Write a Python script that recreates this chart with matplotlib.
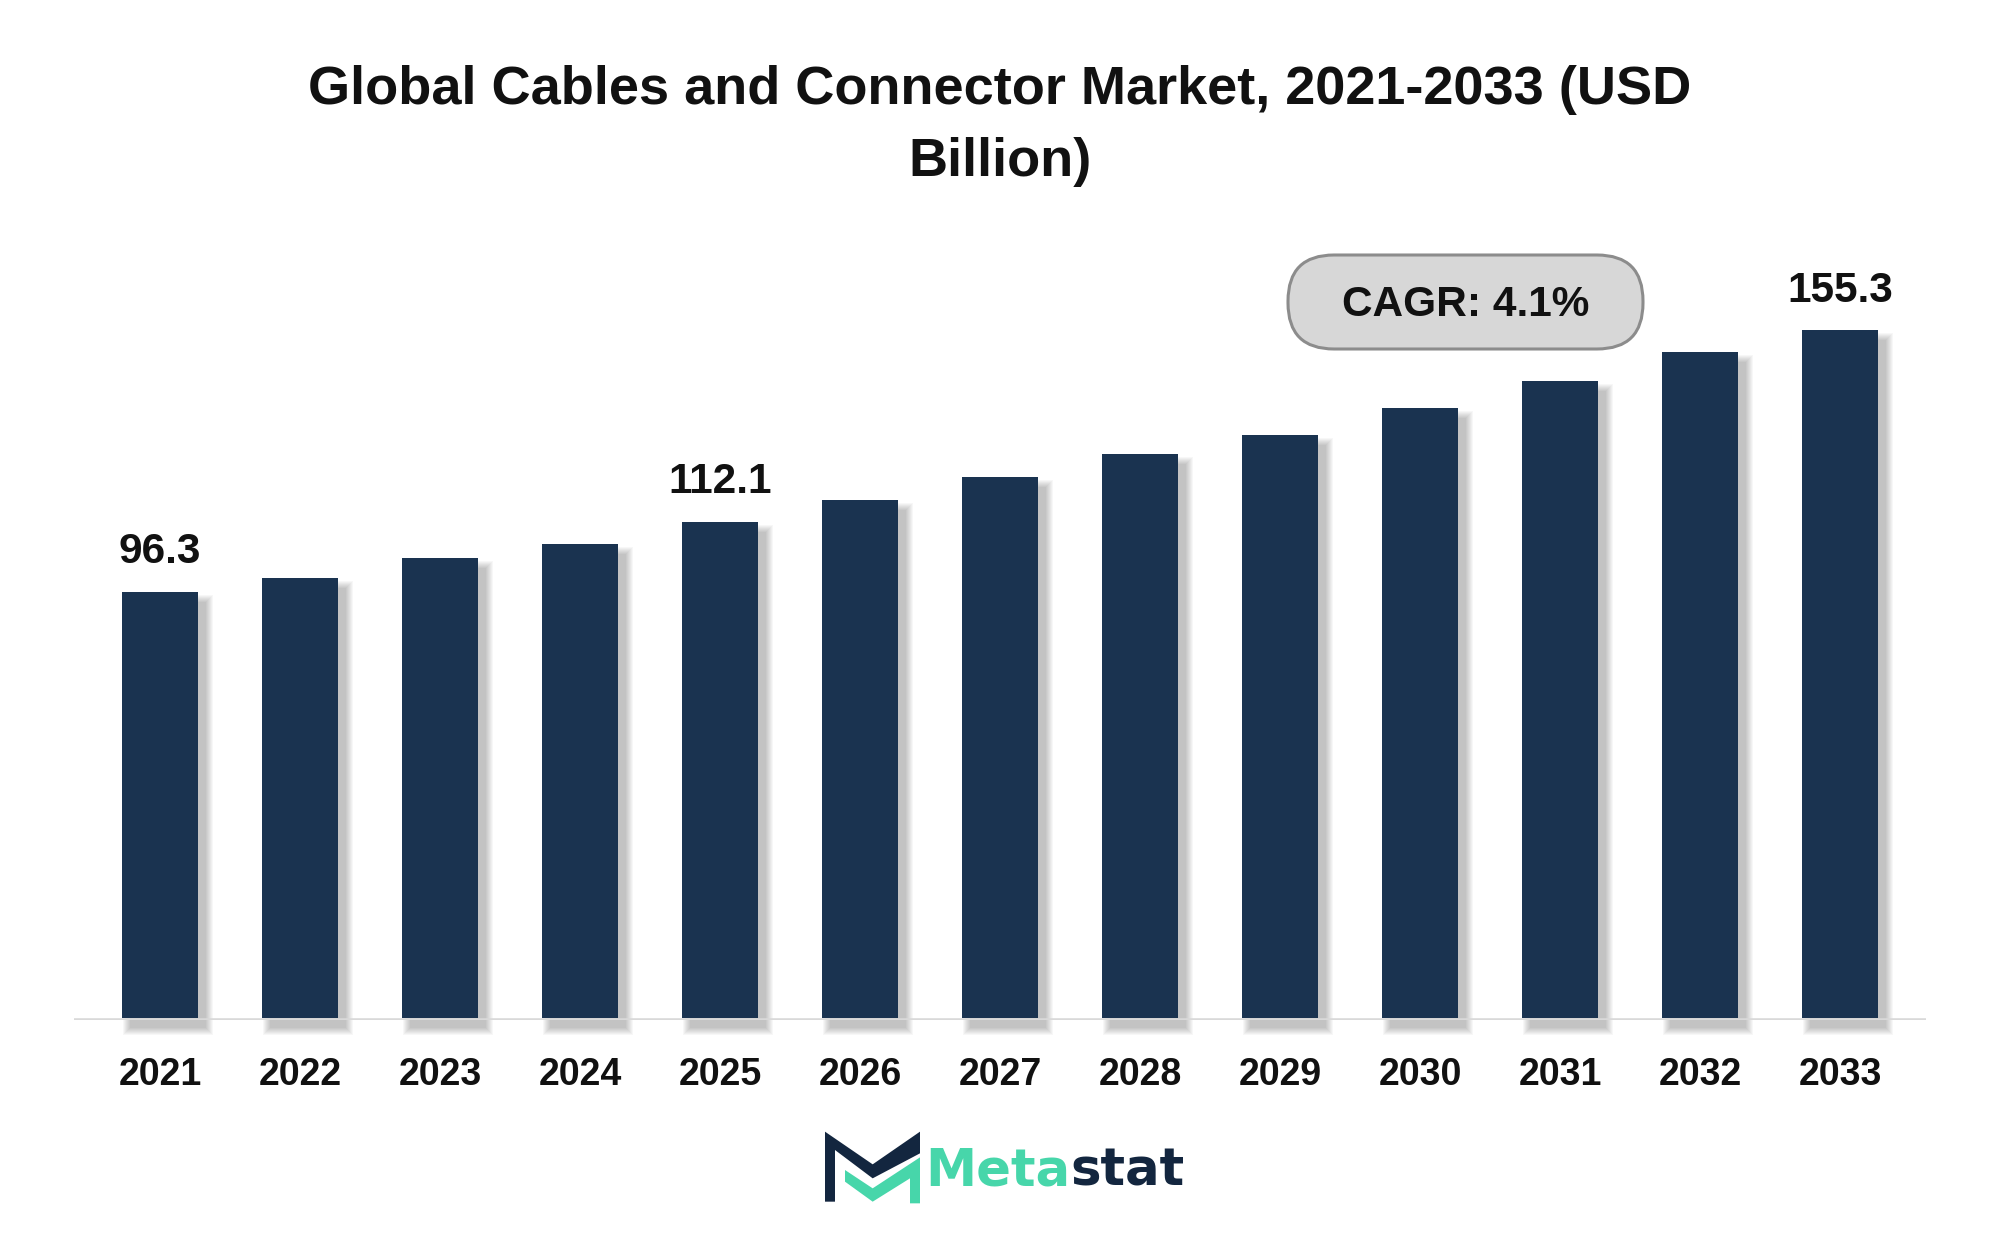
import numpy as np
import matplotlib.pyplot as plt
from matplotlib.patches import FancyBboxPatch, Polygon

years = ['2021', '2022', '2023', '2024', '2025', '2026', '2027',
         '2028', '2029', '2030', '2031', '2032', '2033']
values = [96.3, 99.4, 103.9, 107.1, 112.1, 116.9, 122.1,
          127.5, 131.8, 137.9, 144.0, 150.4, 155.3]
labelled = ['2021', '2025', '2033']
cagr_text = 'CAGR: 4.1%'

bar_color = '#1a3350'
navy = '#13263f'
green = '#47d6aa'

plt.rcParams['font.family'] = ['Liberation Sans', 'DejaVu Sans']

fig = plt.figure(figsize=(20, 12.4), dpi=100)
ax = fig.add_axes([74 / 2000, 220 / 1240, 1852 / 2000, 170 * 4.427 / 1240])
ax.set_xlim(-0.614, 12.614)
ax.set_ylim(0, 170)

x = np.arange(len(years))
w = 0.548
px_x = 1 / 140.0
px_y = 1 / 4.427

# soft shadow to the lower right of the bars
vals = np.array(values)
for s in np.arange(0, 8, 1.0):
    ax.bar(x + 8 * px_x, vals + 2 * s * px_y, bottom=-(8 + s) * px_y,
           width=w + 2 * s * px_x, color='black', alpha=0.032,
           linewidth=0, zorder=1, clip_on=False)

ax.axhline(0, color='#d9d9d9', lw=2.6, zorder=2)
ax.bar(x, values, width=w, bottom=0.45, color=bar_color, zorder=3)

for i, (yr, v) in enumerate(zip(years, values)):
    if yr in labelled:
        ax.annotate(f'{v:.1f}', (i, v), xytext=(0, 21.8), textcoords='offset points',
                    ha='center', va='baseline', fontsize=30.5, fontweight='bold',
                    color='#111111')

ax.set_xticks(x)
ax.set_xticklabels(years, fontsize=27, fontweight='bold', color='#111111')
ax.tick_params(axis='x', length=0, pad=26.5)
ax.set_yticks([])
for sp in ax.spines.values():
    sp.set_visible(False)

# title
fig.text(0.5, (1240 - 104) / 1240, 'Global Cables and Connector Market, 2021-2033 (USD',
         ha='center', va='baseline', fontsize=39, fontweight='bold', color='#111111')
fig.text(0.5, (1240 - 176) / 1240, 'Billion)',
         ha='center', va='baseline', fontsize=39, fontweight='bold', color='#111111')

# CAGR pill
box = FancyBboxPatch((12.88, 8.91), 16.43 - 12.88, 9.85 - 8.91,
                     boxstyle='round,pad=0,rounding_size=0.46',
                     transform=fig.dpi_scale_trans, facecolor='#d7d7d7',
                     edgecolor='#8c8c8c', linewidth=2.2)
fig.add_artist(box)
fig.text(1466 / 2000, (1240 - 305) / 1240, cagr_text, ha='center', va='center',
         fontsize=30.5, fontweight='bold', color='#111111')

# logo
lax = fig.add_axes([820 / 2000, 25 / 1240, 110 / 2000, 90 / 1240])
lax.set_xlim(0, 330)
lax.set_ylim(270, 0)
lax.axis('off')
lax.add_patch(Polygon([(15, 20), (158, 118), (300, 20), (300, 85), (158, 160),
                       (45, 75), (45, 230), (15, 230)], closed=True,
                      facecolor=navy, edgecolor='none'))
lax.add_patch(Polygon([(75, 135), (158, 190), (300, 97), (300, 235), (270, 235),
                       (270, 160), (158, 230), (75, 170)], closed=True,
                      facecolor=green, edgecolor='none'))
t1 = fig.text(925 / 2000, (1240 - 1186) / 1240, 'Meta', ha='left', va='baseline',
              fontsize=37, fontweight='bold', color=green, family='DejaVu Sans')
ax.annotate('stat', xy=(1, 0), xycoords=t1, ha='left', va='bottom',
            fontsize=37, fontweight='bold', color=navy, family='DejaVu Sans',
            annotation_clip=False)

fig.savefig('out.png', dpi=100, facecolor='white')
